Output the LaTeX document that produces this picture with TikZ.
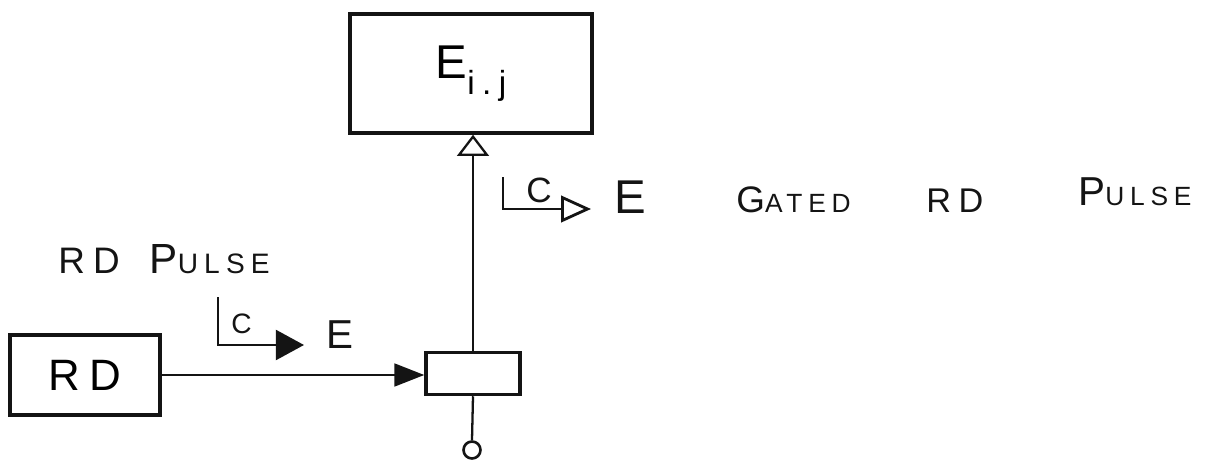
\documentclass[tikz,border=0pt]{standalone}
\usepackage{fontspec}
\setmainfont{Liberation Sans}
\newfontfamily\hand[LetterSpace=22]{Liberation Sans}
\usetikzlibrary{arrows.meta,positioning}
\definecolor{ink}{HTML}{141414}
\tikzset{
  unitbox/.style={rectangle,draw=ink,line width=2pt,inner sep=0pt},
  wire/.style={draw=ink,line width=1.3pt},
  tagline/.style={draw=ink,line width=1.6pt},
  word/.style={anchor=base west,inner sep=0pt,text=ink}
}
% big first letter, small rest
\newcommand{\hw}[4]{{\fontsize{#1}{#1}\hand #2}{\fontsize{#3}{#3}\hand #4}}

\begin{document}
\begin{tikzpicture}[x=0.02cm,y=-0.02cm]
  \useasboundingbox[fill=white] (0,0) rectangle (1208,463);
  % blocks
  \node[unitbox,minimum width=4.84cm,minimum height=2.38cm] (eij) at (471,73.5)
    {\fontsize{27pt}{27pt}\selectfont E\raisebox{-0.35em}{\fontsize{19pt}{19pt}\hand i.j}};
  \node[unitbox,minimum width=3cm,minimum height=1.6cm] (rd) at (85,375)
    {\fontsize{25pt}{25pt}\hand RD};
  \node[unitbox,minimum width=1.88cm,minimum height=0.84cm] (gate) at (473,373.5) {};
  \node[circle,draw=ink,line width=1.5pt,minimum size=0.34cm,inner sep=0pt] (tap) at (472,450) {};
  % connectors
  \draw[wire,-{Triangle[open,length=12pt,width=18pt]}] (gate.north) -- (gate.north |- eij.south);
  \draw[wire,-{Triangle[length=17pt,width=13pt]}] (rd.east) -- (rd.east -| gate.west);
  \draw[wire] (gate.south) -- (tap.north);
  % C -> E tags
  \coordinate (ctop) at (503,177);
  \coordinate (etop) at (591,209);
  \draw[tagline,-{Triangle[open,length=17pt,width=15pt]}] (ctop) |- (etop);
  \node[word] (ctopl) at (526,202) {\fontsize{20pt}{20pt}\selectfont C};
  \node[word] (etopl) at (614,213) {\fontsize{27pt}{27pt}\selectfont E};
  \coordinate (cbot) at (218,297);
  \coordinate (ebot) at (304,345);
  \draw[tagline,-{Triangle[length=16pt,width=17pt]}] (cbot) |- (ebot);
  \node[word] (cbotl) at (231,333) {\fontsize{16pt}{16pt}\selectfont C};
  \node[word] (ebotl) at (326,348) {\fontsize{23pt}{23pt}\selectfont E};
  % labels
  \node[word] (rdpulse) at (58,273)
    {{\fontsize{21pt}{21pt}\hand RD}\hspace{17pt}\hw{24pt}{P}{16pt}{ULSE}};
  \node[word] (gated) at (736,212) {\hw{21pt}{G}{15pt}{ATED}};
  \node[word] (rdword) at (926,212) {\fontsize{19.5pt}{19.5pt}\hand RD};
  \node[word] (pulse) at (1078,205) {\hw{23pt}{P}{15pt}{ULSE}};
\end{tikzpicture}
\end{document}
